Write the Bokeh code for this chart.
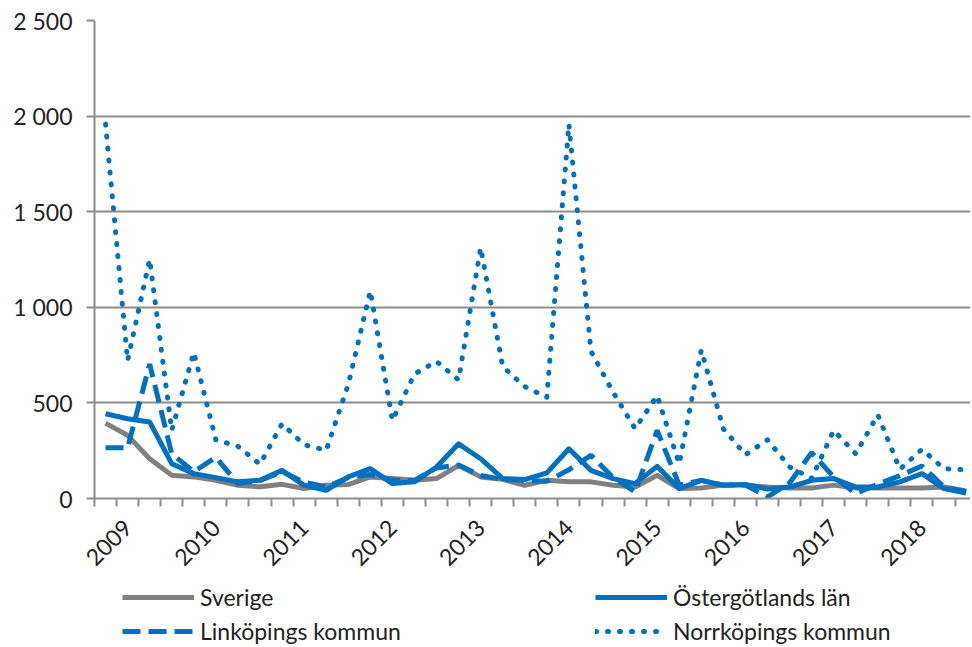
import math
from bokeh.plotting import figure
from bokeh.layouts import column
from bokeh.models import FixedTicker, Legend, LegendItem, Range1d
from bokeh.embed import file_html
from bokeh.resources import INLINE

# ---- data (quarterly values) ----
years = ["2009", "2010", "2011", "2012", "2013", "2014", "2015", "2016", "2017", "2018"]

sverige = [394, 330, 208, 121, 113, 95, 69, 61, 74, 52,
           69, 73, 113, 104, 95, 104, 173, 113, 100, 69,
           95, 87, 87, 69, 60, 121, 52, 55, 70, 70,
           60, 55, 55, 70, 55, 55, 55, 55, 60, 40]

ostergotland = [443, 417, 400, 182, 130, 109, 87, 95, 147, 69,
                43, 113, 156, 78, 87, 165, 286, 208, 104, 99,
                134, 260, 147, 104, 78, 168, 52, 95, 69, 73,
                50, 60, 95, 104, 60, 60, 87, 130, 52, 29]

linkoping = [265, 265, 703, 234, 140, 215, 78, 95, 140, 85,
             60, 110, 125, 95, 95, 160, 175, 120, 100, 95,
             90, 150, 226, 110, 35, 356, 70, 95, 70, 70,
             8, 81, 240, 113, 26, 75, 120, 170, 60, 35]

norrkoping = [1958, 721, 1251, 356, 764, 307, 273, 179, 391, 281,
              252, 596, 1086, 408, 651, 717, 620, 1312, 690, 585,
              530, 1958, 770, 556, 365, 538, 182, 776, 365, 229,
              307, 165, 105, 356, 234, 438, 153, 257, 156, 150]

y_ticks = [0, 500, 1000, 1500, 2000, 2500]

# ---- styles ----
FONT = "Lato"
GRID = "#8c8c8c"
BLUE = "#0070C0"
GRAY = "#808080"
TXT = "#222222"
STYLES = {
    "sv": dict(line_color=GRAY, line_width=5, line_join="round"),
    "og": dict(line_color=BLUE, line_width=5, line_join="round"),
    "li": dict(line_color=BLUE, line_width=5, line_dash="18 8"),
    "no": dict(line_color=BLUE, line_width=5, line_dash="1 11",
               line_cap="round", line_join="round"),
}

n = len(sverige)
xs = list(range(n))

# ---- main chart ----
p = figure(width=970, height=579,
           x_range=Range1d(-0.5, 39.2), y_range=Range1d(0, 2500),
           min_border_left=94, min_border_right=0,
           min_border_top=20, min_border_bottom=81,
           output_backend="svg", toolbar_location=None)
p.outline_line_color = None
p.background_fill_color = "white"
p.border_fill_color = "white"

p.yaxis.ticker = FixedTicker(ticks=y_ticks)
p.yaxis.major_label_overrides = {t: f"{t:,}".replace(",", "\u00a0") for t in y_ticks}
p.yaxis.axis_line_color = GRID
p.yaxis.axis_line_width = 2
p.yaxis.major_tick_line_color = GRID
p.yaxis.major_tick_line_width = 2
p.yaxis.major_tick_out = 8
p.yaxis.major_tick_in = 0
p.yaxis.minor_tick_line_color = None
p.yaxis.major_label_standoff = 14
p.yaxis.major_label_text_font = FONT
p.yaxis.major_label_text_font_size = "23px"
p.yaxis.major_label_text_color = TXT

p.ygrid.grid_line_color = GRID
p.ygrid.grid_line_width = 2
p.xgrid.visible = False

label_pos = [1 + 4 * k for k in range(len(years))]
p.xaxis.ticker = FixedTicker(ticks=label_pos,
                             minor_ticks=[k - 0.5 for k in range(n + 1)])
p.xaxis.major_label_overrides = {pos: y for pos, y in zip(label_pos, years)}
p.xaxis.major_label_orientation = math.pi / 4
p.xaxis.major_label_standoff = 17
p.xaxis.major_tick_out = 0
p.xaxis.major_tick_in = 0
p.xaxis.minor_tick_out = 8
p.xaxis.minor_tick_in = 0
p.xaxis.minor_tick_line_color = GRID
p.xaxis.minor_tick_line_width = 2
p.xaxis.axis_line_color = GRID
p.xaxis.axis_line_width = 2
p.xaxis.major_label_text_font = FONT
p.xaxis.major_label_text_font_size = "23px"
p.xaxis.major_label_text_color = TXT

p.line(xs, sverige, **STYLES["sv"])
p.line(xs, ostergotland, **STYLES["og"])
p.line(xs, linkoping, **STYLES["li"])
p.line(xs, norrkoping, **STYLES["no"])

# ---- legend strip (hidden copies of the series carry the legend glyphs) ----
q = figure(width=970, height=66, x_range=Range1d(0, 1), y_range=Range1d(0, 1),
           min_border_left=0, min_border_right=0, min_border_top=0, min_border_bottom=0,
           x_axis_location=None, y_axis_location=None,
           output_backend="svg", toolbar_location=None)
q.outline_line_color = None
q.xgrid.visible = False
q.ygrid.visible = False
k_sv = q.line(xs, sverige, visible=False, **STYLES["sv"])
k_og = q.line(xs, ostergotland, visible=False, **STYLES["og"])
k_li = q.line(xs, linkoping, visible=False, **STYLES["li"])
k_no = q.line(xs, norrkoping, visible=False, **STYLES["no"])

legend = Legend(items=[LegendItem(label="Sverige", renderers=[k_sv]),
                       LegendItem(label="Linköpings kommun", renderers=[k_li]),
                       LegendItem(label="Östergötlands län", renderers=[k_og]),
                       LegendItem(label="Norrköpings kommun", renderers=[k_no])],
                orientation="vertical", ncols=2,
                location=(28, 0),
                border_line_color=None, background_fill_alpha=0,
                padding=0, margin=0, spacing=6,
                glyph_width=72, glyph_height=26,
                label_width=389, label_height=26, label_standoff=6,
                label_text_font=FONT, label_text_font_size="23px",
                label_text_color=TXT)
q.add_layout(legend, "center")

layout = column(p, q, spacing=0)
open("out.html", "w").write(file_html(layout, INLINE))
